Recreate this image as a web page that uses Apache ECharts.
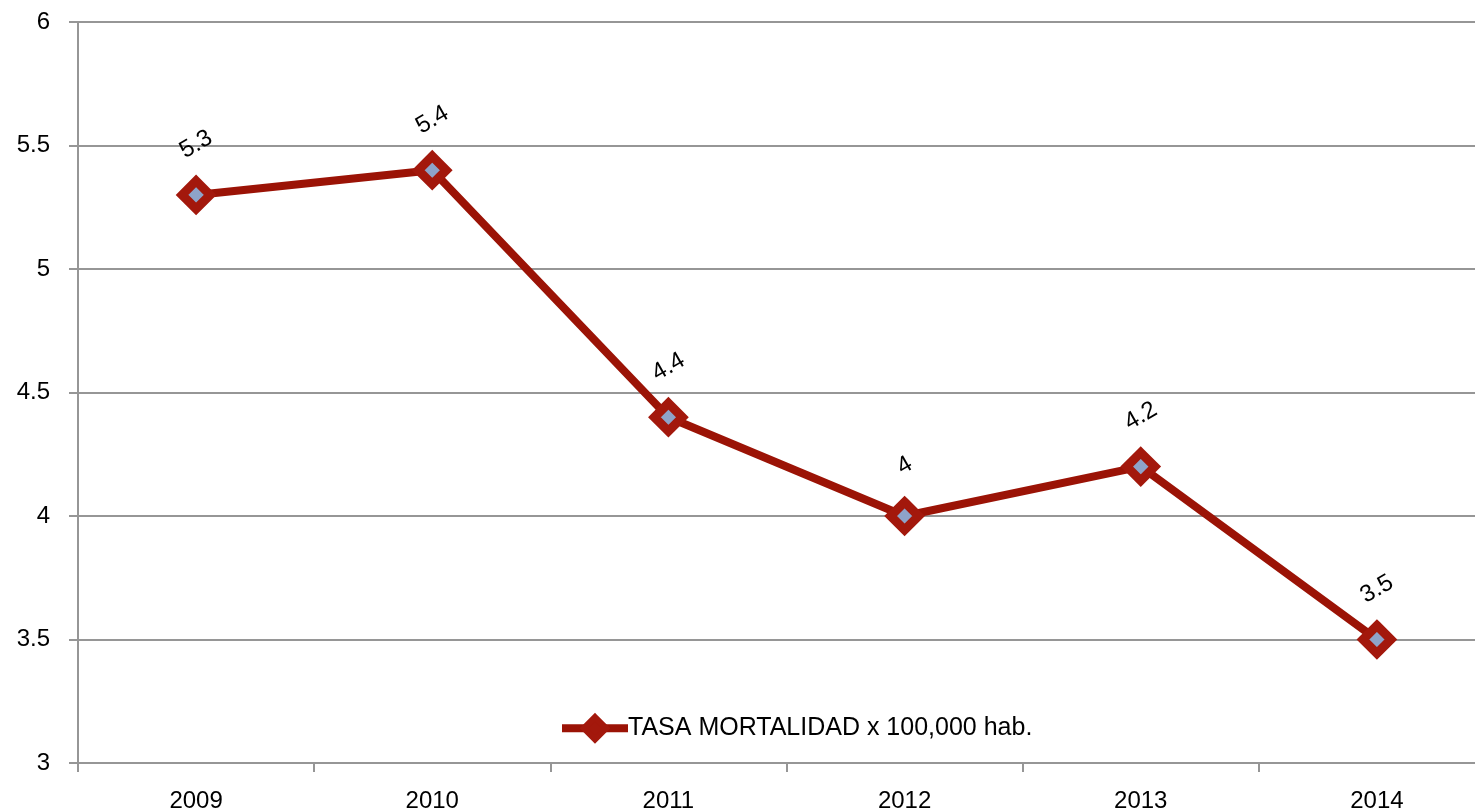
<!DOCTYPE html>
<html>
<head>
<meta charset="utf-8">
<script src="https://cdn.jsdelivr.net/npm/echarts@6/dist/echarts.min.js"></script>
<style>html,body{margin:0;padding:0;background:#fff}#c{width:1475px;height:812px}</style>
</head>
<body>
<div id="c"></div>
<script>
var categories = ['2009', '2010', '2011', '2012', '2013', '2014'];
var values = [5.3, 5.4, 4.4, 4.0, 4.2, 3.5];
var seriesName = 'TASA MORTALIDAD x 100,000 hab.';
var yMin = 3, yMax = 6, yStep = 0.5;

var chart = echarts.init(document.getElementById('c'));
var font = 'Liberation Sans, Arial, sans-serif';
chart.setOption({
  animation: false,
  backgroundColor: '#fff',
  grid: { left: 78, right: -20, top: 22, bottom: 49, containLabel: false, outerBoundsMode: 'none' },
  legend: {
    data: [seriesName],
    left: 553, top: 709,
    itemWidth: 66, itemHeight: 28,
    itemGap: 0,
    lineStyle: { width: 8, color: '#9b1306' },
    itemStyle: { color: '#a3180c', borderColor: '#a3180c', borderWidth: 6 },
    textStyle: { fontFamily: font, fontSize: 25, color: '#000', padding: [0,0,0,-5] }
  },
  xAxis: {
    type: 'category',
    data: categories,
    boundaryGap: true,
    axisLine: { lineStyle: { color: '#969696', width: 2 } },
    axisTick: { show: true, length: 9, lineStyle: { color: '#969696', width: 2 } },
    axisLabel: { fontFamily: font, fontSize: 24, color: '#000', margin: 26 },
    splitLine: { show: false }
  },
  yAxis: {
    type: 'value',
    min: yMin, max: yMax, interval: yStep,
    axisLine: { show: true, lineStyle: { color: '#969696', width: 2 } },
    axisTick: { show: true, length: 9, lineStyle: { color: '#969696', width: 2 } },
    axisLabel: { fontFamily: font, fontSize: 24, color: '#000', margin: 28 },
    splitLine: { lineStyle: { color: '#969696', width: 2 } }
  },
  series: [{
    name: seriesName,
    type: 'line',
    data: values,
    symbol: 'diamond',
    symbolSize: 28,
    lineStyle: { color: '#9b1306', width: 8 },
    itemStyle: { color: '#8ea3c9', borderColor: '#a3180c', borderWidth: 9 },
    label: {
      show: true, position: 'top', distance: 18, rotate: 30, offset: [7, 0],
      fontFamily: font, fontSize: 24, color: '#000'
    }
  }]
});
</script>
</body>
</html>
